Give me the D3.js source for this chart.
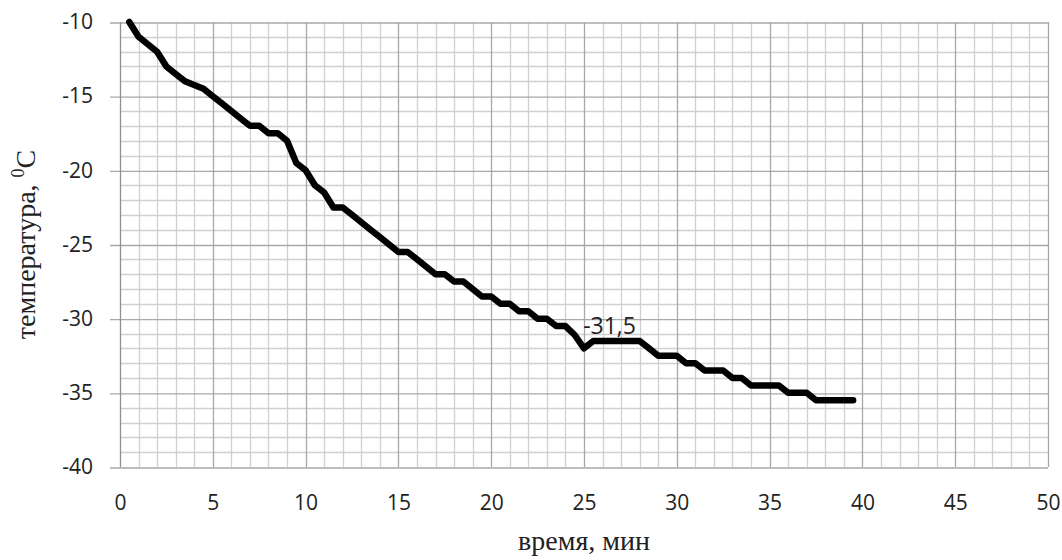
<!DOCTYPE html>
<html>
<head>
<meta charset="utf-8">
<script src="https://cdn.jsdelivr.net/npm/d3@7"></script>
<style>
  body { margin: 0; background: #fff; }
  .tick text { font-family: "Open Sans", sans-serif; font-size: 21px; fill: #222; }
  .axisTitle { font-family: "Liberation Serif", serif; font-size: 28px; fill: #222; }
</style>
</head>
<body>
<svg id="chart" width="1062" height="560"></svg>
<script>
// время, мин
const times = [0.5, 1, 1.5, 2, 2.5, 3, 3.5, 4, 4.5, 5,
  5.5, 6, 6.5, 7, 7.5, 8, 8.5, 9, 9.5, 10,
  10.5, 11, 11.5, 12, 12.5, 13, 13.5, 14, 14.5, 15,
  15.5, 16, 16.5, 17, 17.5, 18, 18.5, 19, 19.5, 20,
  20.5, 21, 21.5, 22, 22.5, 23, 23.5, 24, 24.5, 25,
  25.5, 26, 26.5, 27, 27.5, 28, 28.5, 29, 29.5, 30,
  30.5, 31, 31.5, 32, 32.5, 33, 33.5, 34, 34.5, 35,
  35.5, 36, 36.5, 37, 37.5, 38, 38.5, 39, 39.5]
// температура, °C
const temps = [-10, -11, -11.5, -12, -13, -13.5, -14, -14.25, -14.5, -15,
  -15.5, -16, -16.5, -17, -17, -17.5, -17.5, -18, -19.5, -20,
  -21, -21.5, -22.5, -22.5, -23, -23.5, -24, -24.5, -25, -25.5,
  -25.5, -26, -26.5, -27, -27, -27.5, -27.5, -28, -28.5, -28.5,
  -29, -29, -29.5, -29.5, -30, -30, -30.5, -30.5, -31.1, -32,
  -31.5, -31.5, -31.5, -31.5, -31.5, -31.5, -32, -32.5, -32.5, -32.5,
  -33, -33, -33.5, -33.5, -33.5, -34, -34, -34.5, -34.5, -34.5,
  -34.5, -35, -35, -35, -35.5, -35.5, -35.5, -35.5, -35.5]

const xTicks = [0, 5, 10, 15, 20, 25, 30, 35, 40, 45, 50]
const yTicks = [-10, -15, -20, -25, -30, -35, -40]
// подпись точки
const labelTime = 26
const labelText = "-31,5"

const svg = d3.select("#chart")
const margin = { top: 22, right: 14, bottom: 93, left: 120 }
const width = 1062 - margin.left - margin.right,
    height = 560 - margin.top - margin.bottom

const g = svg.append("g")
    .attr("transform", `translate(${margin.left},${margin.top})`)

const x = d3.scaleLinear().domain([0, 50]).range([0, width])
const y = d3.scaleLinear().domain([-40, -10]).range([height, 0])

// мелкая сетка (1 мин, 1 градус)
g.append("g")
    .selectAll("line")
    .data(d3.range(1, 50).filter(v => v % 5 !== 0))
    .join("line")
    .attr("x1", d => Math.round(x(d)) + 0.5).attr("x2", d => Math.round(x(d)) + 0.5)
    .attr("y1", 0).attr("y2", height)
    .attr("stroke", "#d0d0d0").attr("stroke-width", 1.3)

g.append("g")
    .selectAll("line")
    .data(d3.range(-39, -10).filter(v => v % 5 !== 0))
    .join("line")
    .attr("y1", d => Math.round(y(d)) + 0.5).attr("y2", d => Math.round(y(d)) + 0.5)
    .attr("x1", 0).attr("x2", width)
    .attr("stroke", "#d0d0d0").attr("stroke-width", 1.3)

// основная сетка
g.append("g")
    .selectAll("line")
    .data(xTicks.slice(1))
    .join("line")
    .attr("x1", d => Math.round(x(d)) + 0.5).attr("x2", d => Math.round(x(d)) + 0.5)
    .attr("y1", 0).attr("y2", height)
    .attr("stroke", "#a8a8a8").attr("stroke-width", 1.3)

// ось Y
const yAxis = g.append("g")
    .call(d3.axisLeft(y).tickValues(yTicks).tickSize(10).tickPadding(17)
        .tickFormat(d => d3.format("d")(d).replace("−", "-")))
yAxis.select(".domain").remove()
yAxis.selectAll(".tick line")
    .attr("x2", width)
    .attr("x1", -10)
    .attr("stroke", "#a8a8a8").attr("stroke-width", 1.3)
    .attr("transform", "translate(0,0.5)")

// ось X
const xAxis = g.append("g")
    .attr("transform", `translate(0,${height})`)
    .call(d3.axisBottom(x).tickValues(xTicks).tickSize(0).tickPadding(28))
xAxis.select(".domain").remove()

g.append("line")
    .attr("x1", 0.5).attr("x2", 0.5).attr("y1", 0).attr("y2", height)
    .attr("stroke", "#909090").attr("stroke-width", 1.3)

// линия данных
const pts = times.map((t, i) => [t, temps[i]])
g.append("path")
    .datum(pts)
    .attr("fill", "none")
    .attr("stroke", "#000")
    .attr("stroke-width", 6.5)
    .attr("stroke-linejoin", "round")
    .attr("stroke-linecap", "round")
    .attr("d", d3.line().x(d => x(d[0])).y(d => y(d[1])))

// подпись данных
const li = times.indexOf(labelTime)
g.append("text")
    .attr("x", x(times[li]) + 7)
    .attr("y", y(temps[li]) - 7)
    .attr("text-anchor", "middle")
    .style("font-family", "'Open Sans', sans-serif")
    .style("font-size", "23px")
    .style("fill", "#222")
    .text(labelText)

// подписи осей
svg.append("text")
    .attr("class", "axisTitle")
    .attr("x", margin.left + width / 2)
    .attr("y", 550)
    .attr("text-anchor", "middle")
    .text("время, мин")

const yt = svg.append("text")
    .attr("class", "axisTitle")
    .attr("transform", `translate(35,${margin.top + height / 2}) rotate(-90)`)
    .attr("text-anchor", "middle")
yt.append("tspan").text("температура, ")
yt.append("tspan").attr("dy", -11).style("font-size", "18px").text("0")
yt.append("tspan").attr("dy", 11).text("C")
</script>
</body>
</html>
